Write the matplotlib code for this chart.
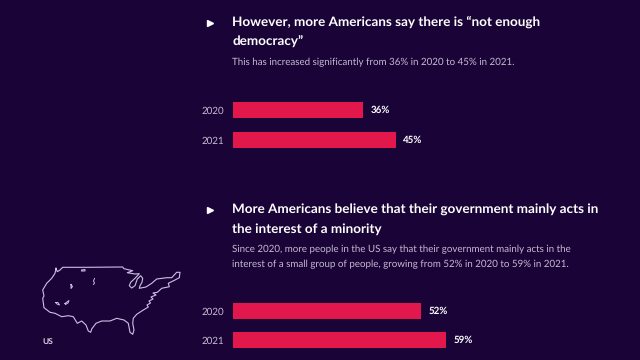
import matplotlib
matplotlib.use("Agg")
import matplotlib.pyplot as plt

plt.rcParams['font.family'] = ['Lato', 'DejaVu Sans']
plt.rcParams['text.hinting'] = 'no_hinting'
plt.rcParams['text.hinting_factor'] = 8

bg = '#1a0437'
bar_color = '#e2184c'
W, H = 640, 360

years = ['2020', '2021']
democracy_values = [36, 45]
minority_values = [52, 59]

heading1 = ['However, more Americans say there is \u201cnot enough', 'democracy\u201d']
body1 = ['This has increased significantly from 36% in 2020 to 45% in 2021.']
heading2 = ['More Americans believe that their government mainly acts in', 'the interest of a minority']
body2 = ['Since 2020, more people in the US say that their government mainly acts in the',
         'interest of a small group of people, growing from 52% in 2020 to 59% in 2021.']

# outline of the map (pixels)
map_x = [56, 57.3, 60, 62.7, 86.7, 122.7, 124, 128.3, 132.7, 127.3, 135, 139.3, 135, 130.7, 129.3, 131.7,
         135, 137.3, 140.7, 142.7, 142, 140, 139.3, 146, 151.7, 156.7, 166.7, 171.7, 176.7, 180, 179.3,
         175, 168.3, 169.3, 161.7, 157.3, 153, 156, 151, 153, 149, 150.5, 147, 148.3, 143.3, 136.7, 133.3, 132.7, 134,
         132.7, 130, 128.3, 124, 116.7, 110, 101.7, 96, 91.7, 90.7, 88.3, 86, 81.7, 77.3, 73.3, 68.3,
         61.7, 55, 50, 44, 42.7, 44, 42.7, 46.7, 51.7, 55, 56]
map_y = [268.3, 271.7, 270, 267.3, 267.3, 267, 268.7, 269.7, 270.7, 272.7, 274, 273.7, 278.3, 282.3,
         285.7, 288, 285.7, 279, 275.7, 278.3, 282.3, 285.7, 288.3, 287, 283.3, 279, 277.7, 277.7, 272.3,
         272.3, 277.7, 280, 283.3, 286.7, 288.3, 292.3, 293, 295, 297, 299, 301, 303, 305, 307, 310, 314.3, 318.3,
         323.3, 330, 334.3, 332.3, 323.3, 320, 318.3, 321, 321, 323.3, 329, 332.3, 331, 325, 321, 323.3,
         316.7, 315.7, 316.7, 313.3, 312.3, 307.7, 298.3, 296, 290, 283.3, 278.3, 273.3, 268.3]
lake_x = [[81.5, 85, 85, 81.5], [94.5, 93.5, 94.5, 93.5], [71, 72.5, 71, 71], [55.5, 58, 59.5, 57, 55.5], [65, 69, 68, 65.5, 65]]
lake_y = [[270, 269.5, 271, 271], [278.5, 281, 283, 284.5], [284.5, 286.5, 288.5, 284.5], [302.5, 302.5, 305, 304, 302.5], [303.5, 300.5, 303, 304.5, 303.5]]

fig = plt.figure(figsize=(W / 100, H / 100), dpi=100, facecolor=bg)


def px_axes(left, top, right, bottom):
    return fig.add_axes([left / W, 1 - bottom / H, (right - left) / W, (bottom - top) / H])


def draw_bars(values, top, bottom):
    ax = px_axes(232.5, top, 595, bottom)
    ax.set_facecolor('none')
    ax.barh(years, values, height=0.54, color=bar_color)
    ax.set_xlim(0, 100)
    ax.set_ylim(1.5, -0.5)
    ax.xaxis.set_visible(False)
    ax.tick_params(axis='y', length=0, pad=6, labelsize=7, labelcolor='#c5bad2')
    for s in ax.spines.values():
        s.set_visible(False)
    for i, v in enumerate(values):
        ax.text(v + 2, i, f'{v}%', color='white', fontsize=7, fontweight='bold', va='center')


draw_bars(democracy_values, 95.5, 154.5)
draw_bars(minority_values, 296.5, 355)

# overlay for the texts
page = fig.add_axes([0, 0, 1, 1])
page.set_xlim(0, W)
page.set_ylim(H, 0)
page.axis('off')


def draw_block(head, body, head_y, body_y):
    page.plot([210], [head_y[0] + 0.5], marker='>', ms=4.5, color='white', ls='none')
    for t, y in zip(head, head_y):
        page.text(232.5, y, t, color='white', fontsize=9.7, fontweight='bold', va='center')
    for t, y in zip(body, body_y):
        page.text(232.5, y, t, color='#c5bad2', fontsize=7.0, va='center')


draw_block(heading1, body1, [22, 41.5], [62.5])
draw_block(heading2, body2, [209.5, 229], [249, 264])

# map
page.plot(map_x, map_y, color='#cdbfe6', lw=0.8)
for x, y in zip(lake_x, lake_y):
    page.plot(x, y, color='#cdbfe6', lw=0.7)
page.text(42, 342, 'US', color='#d8d0e2', fontsize=6, fontweight='bold', va='center')

fig.savefig('out.png', dpi=100, facecolor=bg)
